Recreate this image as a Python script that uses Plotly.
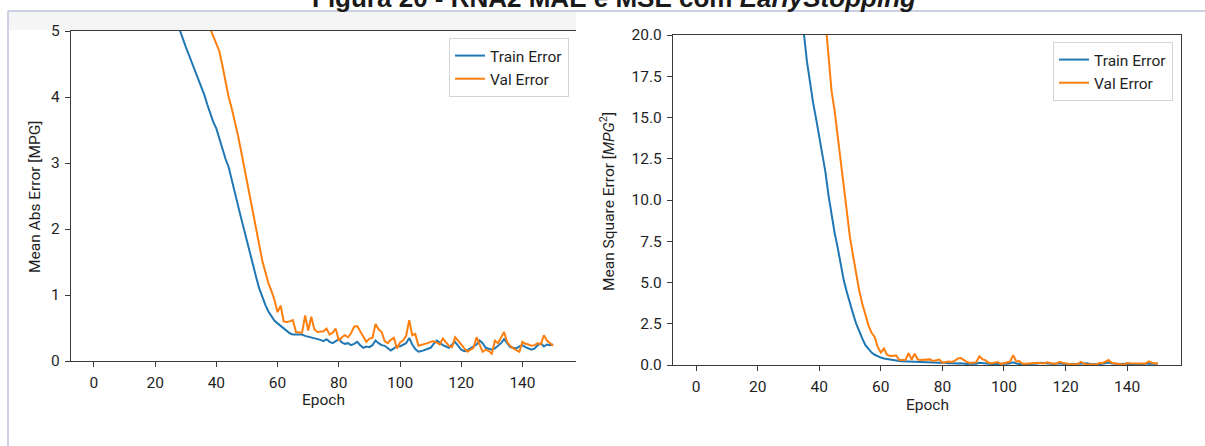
import plotly.graph_objects as go

# ---------------- data ----------------
x_ticks = [0, 20, 40, 60, 80, 100, 120, 140]
mae_ticks = [0, 1, 2, 3, 4, 5]
mse_ticks = [0.0, 2.5, 5.0, 7.5, 10.0, 12.5, 15.0, 17.5, 20.0]

mae_train = [
    7.60, 7.55, 7.49, 7.43, 7.37, 7.31, 7.24, 7.17, 7.10, 7.02,
    6.94, 6.86, 6.78, 6.69, 6.60, 6.51, 6.42, 6.32, 6.22, 6.12,
    6.02, 5.91, 5.80, 5.69, 5.58, 5.46, 5.34, 5.22, 5.02, 4.88,
    4.76, 4.64, 4.52, 4.40, 4.28, 4.17, 4.04, 3.89, 3.74, 3.62,
    3.52, 3.36, 3.19, 3.06, 2.94, 2.74, 2.55, 2.36, 2.18, 2.00,
    1.81, 1.61, 1.43, 1.27, 1.10, 0.96, 0.85, 0.75, 0.67, 0.61,
    0.57, 0.53, 0.50, 0.46, 0.42, 0.40, 0.40, 0.39, 0.40, 0.38,
    0.37, 0.35, 0.34, 0.34, 0.32, 0.30, 0.33, 0.29, 0.27, 0.30,
    0.33, 0.28, 0.26, 0.27, 0.24, 0.26, 0.29, 0.24, 0.20, 0.22,
    0.21, 0.24, 0.31, 0.27, 0.24, 0.23, 0.20, 0.16, 0.19, 0.23,
    0.22, 0.24, 0.27, 0.35, 0.25, 0.18, 0.14, 0.15, 0.17, 0.19,
    0.20, 0.26, 0.31, 0.28, 0.24, 0.22, 0.20, 0.25, 0.29, 0.23,
    0.17, 0.15, 0.16, 0.19, 0.22, 0.25, 0.31, 0.27, 0.20, 0.18,
    0.17, 0.19, 0.23, 0.27, 0.33, 0.26, 0.21, 0.20, 0.19, 0.22,
    0.24, 0.21, 0.19, 0.17, 0.19, 0.24, 0.27, 0.22, 0.25, 0.24,
    0.25,
]

mae_val = [
    8.60, 8.56, 8.52, 8.47, 8.42, 8.37, 8.31, 8.25, 8.19, 8.12,
    8.05, 7.98, 7.90, 7.82, 7.74, 7.65, 7.56, 7.47, 7.37, 7.27,
    7.17, 7.06, 6.95, 6.84, 6.72, 6.60, 6.48, 6.35, 6.22, 6.09,
    5.96, 5.83, 5.70, 5.57, 5.44, 5.32, 5.20, 5.11, 5.03, 4.92,
    4.81, 4.69, 4.47, 4.23, 4.00, 3.83, 3.65, 3.43, 3.20, 2.96,
    2.74, 2.50, 2.23, 1.98, 1.75, 1.52, 1.35, 1.18, 1.06, 0.92,
    0.74, 0.84, 0.60, 0.59, 0.60, 0.62, 0.44, 0.44, 0.43, 0.69,
    0.46, 0.67, 0.48, 0.44, 0.44, 0.45, 0.49, 0.40, 0.43, 0.49,
    0.31, 0.36, 0.39, 0.36, 0.42, 0.52, 0.53, 0.45, 0.36, 0.29,
    0.34, 0.35, 0.56, 0.48, 0.44, 0.30, 0.27, 0.32, 0.35, 0.19,
    0.28, 0.31, 0.38, 0.62, 0.39, 0.41, 0.23, 0.24, 0.26, 0.27,
    0.29, 0.30, 0.28, 0.25, 0.34, 0.28, 0.23, 0.21, 0.36, 0.31,
    0.24, 0.19, 0.14, 0.17, 0.20, 0.36, 0.24, 0.14, 0.17, 0.15,
    0.11, 0.31, 0.27, 0.36, 0.44, 0.29, 0.23, 0.19, 0.16, 0.14,
    0.29, 0.26, 0.25, 0.23, 0.24, 0.27, 0.25, 0.39, 0.31, 0.27,
    0.23,
]

mse_train = [
    64.7, 63.9, 62.9, 62.0, 61.0, 60.0, 58.9, 57.7, 56.6, 55.3,
    54.0, 52.7, 51.4, 50.0, 48.6, 47.2, 45.8, 44.3, 42.9, 41.5,
    40.1, 38.6, 37.2, 35.8, 34.4, 33.0, 31.6, 30.2, 28.4, 27.0,
    25.8, 24.6, 23.4, 22.2, 21.1, 20.1, 18.4, 17.1, 15.9, 14.9,
    13.8, 12.9, 11.7, 10.3, 9.1, 8.0, 7.1, 6.1, 5.1, 4.4,
    3.7, 3.1, 2.5, 2.0, 1.6, 1.2, 0.95, 0.75, 0.62, 0.52,
    0.45, 0.40, 0.36, 0.32, 0.28, 0.25, 0.24, 0.23, 0.22, 0.21,
    0.20, 0.19, 0.18, 0.17, 0.16, 0.15, 0.16, 0.13, 0.12, 0.14,
    0.15, 0.11, 0.10, 0.10, 0.08, 0.09, 0.11, 0.08, 0.06, 0.07,
    0.07, 0.08, 0.13, 0.10, 0.08, 0.08, 0.06, 0.05, 0.06, 0.08,
    0.07, 0.08, 0.10, 0.16, 0.09, 0.06, 0.04, 0.05, 0.05, 0.06,
    0.07, 0.09, 0.13, 0.11, 0.08, 0.07, 0.06, 0.09, 0.11, 0.08,
    0.05, 0.04, 0.05, 0.06, 0.07, 0.09, 0.13, 0.10, 0.06, 0.05,
    0.05, 0.06, 0.08, 0.10, 0.15, 0.09, 0.07, 0.06, 0.06, 0.07,
    0.08, 0.07, 0.06, 0.05, 0.06, 0.08, 0.10, 0.07, 0.09, 0.08,
    0.09,
]

mse_val = [
    82.8, 82.0, 81.3, 80.4, 79.4, 78.5, 77.4, 76.3, 75.2, 73.9,
    72.6, 71.3, 69.9, 68.5, 67.1, 65.5, 64.0, 62.5, 60.8, 59.2,
    57.6, 55.8, 54.1, 52.4, 50.6, 48.8, 47.0, 45.2, 43.3, 41.5,
    39.8, 38.1, 36.4, 34.7, 33.1, 31.7, 30.3, 29.3, 28.3, 27.1,
    25.6, 23.1, 21.0, 18.6, 16.6, 15.4, 13.9, 12.4, 10.7, 9.3,
    7.7, 6.6, 5.5, 4.5, 3.7, 3.0, 2.4, 1.95, 1.7, 1.1,
    0.75, 1.0, 0.62, 0.55, 0.55, 0.58, 0.30, 0.30, 0.30, 0.72,
    0.32, 0.68, 0.33, 0.30, 0.30, 0.31, 0.34, 0.24, 0.27, 0.33,
    0.14, 0.18, 0.21, 0.18, 0.25, 0.40, 0.42, 0.30, 0.18, 0.12,
    0.16, 0.17, 0.52, 0.36, 0.28, 0.13, 0.11, 0.14, 0.18, 0.06,
    0.12, 0.14, 0.21, 0.60, 0.22, 0.24, 0.08, 0.08, 0.10, 0.10,
    0.12, 0.13, 0.11, 0.09, 0.17, 0.11, 0.08, 0.07, 0.19, 0.14,
    0.09, 0.06, 0.03, 0.05, 0.06, 0.19, 0.08, 0.03, 0.05, 0.04,
    0.02, 0.14, 0.11, 0.19, 0.30, 0.12, 0.08, 0.05, 0.04, 0.03,
    0.12, 0.10, 0.09, 0.08, 0.08, 0.10, 0.09, 0.22, 0.14, 0.11,
    0.08,
]

# ---------------- styling ----------------
W, H = 1205, 446
FONT = "Roboto"
FS = 15.5
BLUE = "#1f77b4"
ORANGE = "#ff7f0e"
TXT = "#1f1f1f"
SPINE = "#3a3a3a"


def fx(p):
    return p / W


def fy(p):
    return 1 - p / H


fig = go.Figure()
series = [
    (mae_train, "Train Error", BLUE, "x", "y", "legend"),
    (mae_val, "Val Error", ORANGE, "x", "y", "legend"),
    (mse_train, "Train Error", BLUE, "x2", "y2", "legend2"),
    (mse_val, "Val Error", ORANGE, "x2", "y2", "legend2"),
]
for vals, name, col, xa, ya, lg in series:
    fig.add_trace(go.Scatter(
        x=list(range(len(vals))), y=vals, name=name, mode="lines",
        line=dict(color=col, width=2), xaxis=xa, yaxis=ya, legend=lg,
        hoverinfo="skip",
    ))

axis_common = dict(
    showline=True, linecolor=SPINE, linewidth=1.2, ticks="outside", ticklen=5,
    tickwidth=1, tickcolor=SPINE, showgrid=False, zeroline=False,
    tickfont=dict(family=FONT, size=FS, color=TXT), ticklabelstandoff=2,
)

fig.update_layout(
    width=W, height=H, margin=dict(l=0, r=0, t=0, b=0, autoexpand=False),
    paper_bgcolor="white", plot_bgcolor="white", showlegend=True,
    xaxis=dict(domain=[fx(71), fx(576)], range=[-7.5, 157.5], anchor="y",
               tickvals=x_ticks, mirror=True, **axis_common),
    yaxis=dict(domain=[fy(361), fy(31)], range=[0, 5], anchor="x",
               tickvals=mae_ticks, mirror=False, **axis_common),
    xaxis2=dict(domain=[fx(673), fx(1181)], range=[-7.5, 157.5], anchor="y2",
                tickvals=x_ticks, mirror=True, **axis_common),
    yaxis2=dict(domain=[fy(365), fy(35)], range=[0, 20], anchor="x2",
                tickvals=mse_ticks, ticktext=[f"{t:.1f}" for t in mse_ticks],
                mirror=True, **axis_common),
    legend=dict(x=fx(569), y=fy(38), xanchor="right", yanchor="top",
                bordercolor="#d4d4d4", borderwidth=1, bgcolor="white",
                font=dict(family=FONT, size=FS, color=TXT), itemwidth=30,
                tracegroupgap=0),
    legend2=dict(x=fx(1173), y=fy(42), xanchor="right", yanchor="top",
                 bordercolor="#d4d4d4", borderwidth=1, bgcolor="white",
                 font=dict(family=FONT, size=FS, color=TXT), itemwidth=30,
                 tracegroupgap=0),
)

# document frame (screenshot border) and faint band above left panel
fig.add_shape(type="rect", xref="paper", yref="paper", x0=fx(9), x1=fx(576),
              y0=fy(30), y1=fy(12), fillcolor="#f5f5f5", line=dict(width=0),
              layer="below")
fig.add_shape(type="line", xref="paper", yref="paper", x0=fx(8), x1=fx(8),
              y0=0, y1=fy(11), line=dict(color="#c9d1e2", width=2))
fig.add_shape(type="line", xref="paper", yref="paper", x0=fx(8), x1=1,
              y0=fy(11), y1=fy(11), line=dict(color="#c9d1e2", width=2))

ann_font = dict(family=FONT, size=FS, color=TXT)
fig.add_annotation(text="Epoch", x=fx(323.5), y=fy(400), xref="paper", yref="paper",
                   showarrow=False, font=ann_font, xanchor="center", yanchor="middle")
fig.add_annotation(text="Epoch", x=fx(927), y=fy(405), xref="paper", yref="paper",
                   showarrow=False, font=ann_font, xanchor="center", yanchor="middle")
fig.add_annotation(text="Mean Abs Error [MPG]", x=fx(35), y=fy(197), xref="paper",
                   yref="paper", showarrow=False, font=ann_font, textangle=-90,
                   xanchor="center", yanchor="middle")
fig.add_annotation(text="Mean Square Error [<i>MPG</i><sup>2</sup>]", x=fx(607), y=fy(202),
                   xref="paper", yref="paper", showarrow=False, font=ann_font,
                   textangle=-90, xanchor="center", yanchor="middle")
fig.add_annotation(text="<b>Figura 20 - RNA2 MAE e MSE com <i>EarlyStopping</i></b>",
                   x=fx(613.5), y=fy(15), xref="paper", yref="paper", showarrow=False,
                   font=dict(family="Liberation Sans", size=26, color="#1a1a1a"),
                   xanchor="center", yanchor="bottom")

fig.write_html("out.html", config={"displayModeBar": False},
               post_script="document.body.style.margin='0';")
